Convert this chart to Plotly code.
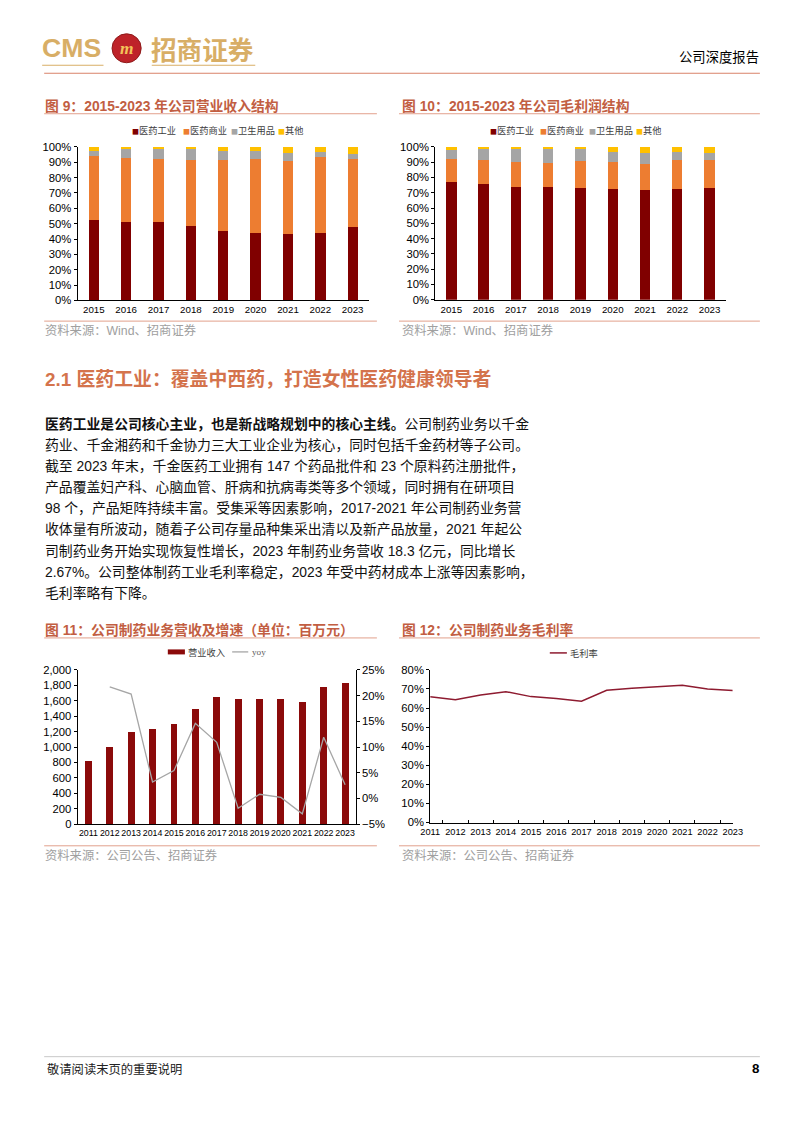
import plotly.graph_objects as go

# ---------------- data ----------------
years_struct = ["2015", "2016", "2017", "2018", "2019", "2020", "2021", "2022", "2023"]
segments = ["医药工业", "医药商业", "卫生用品", "其他"]
rev_pharma_ind = [52.7, 51.2, 51.0, 48.6, 45.1, 43.6, 43.4, 43.8, 47.9]
rev_pharma_com = [41.2, 41.6, 41.2, 42.9, 46.2, 48.6, 47.7, 49.7, 44.3]
rev_hygiene = [3.7, 5.9, 6.3, 7.2, 6.3, 5.4, 4.8, 3.0, 3.2]
rev_other = [2.4, 1.3, 1.5, 1.3, 2.4, 2.4, 4.1, 3.5, 4.6]

gp_pharma_ind = [76.9, 75.8, 74.1, 74.1, 73.4, 72.8, 71.5, 72.5, 73.0]
gp_pharma_com = [15.3, 15.5, 16.1, 15.2, 17.2, 17.4, 17.2, 19.0, 18.5]
gp_hygiene = [5.6, 7.4, 8.6, 9.4, 8.1, 6.5, 7.6, 5.0, 4.4]
gp_other = [2.2, 1.3, 1.2, 1.3, 1.3, 3.3, 3.7, 3.5, 4.1]

years_pharma = ["2011", "2012", "2013", "2014", "2015", "2016", "2017",
                "2018", "2019", "2020", "2021", "2022", "2023"]
pharma_revenue = [816, 994, 1192, 1231, 1296, 1490, 1650, 1620, 1628, 1628, 1590, 1780, 1830]
pharma_yoy = [None, 21.7, 20.3, 3.2, 5.4, 14.6, 10.9, -1.9, 0.8, 0.2, -3.0, 11.9, 2.67]
pharma_margin = [65.9, 64.3, 66.9, 68.6, 66.0, 65.0, 63.6, 69.3, 70.4, 71.3, 72.0, 70.0, 69.2]

name_rev, name_yoy, name_margin = "营业收入", "yoy", "毛利率"

# ---------------- styles ----------------
W, H = 802, 1133
# layout is specified in page pixels and mapped onto the figure
SX, OX = 0.97, 11.0
SY, OY = 0.99, 4.7
FS = 1 / 0.975

seg_colors = ["#800000", "#ED7D31", "#A5A5A5", "#FFC000"]
BAR_RED = "#8B0A0A"
YOY_GRAY = "#A6A6A6"
MARGIN_RED = "#8E1B30"
TITLE_C = "#C25E42"
HEAD_C = "#D4734C"
RULE_C = "#E2A08C"
GOLD = "#D8AE66"
SRC_C = "#A0A0A0"
FONT = "Liberation Sans, Noto Sans CJK SC, sans-serif"


def px(x):
    return ((x - OX) / SX) / W


def py(y):
    return 1 - ((y - OY) / SY) / H


fig = go.Figure()

# ---- chart 9 / chart 10 stacked bars ----
for name, vals, col in zip(segments, [rev_pharma_ind, rev_pharma_com, rev_hygiene, rev_other], seg_colors):
    fig.add_trace(go.Bar(x=years_struct, y=vals, name=name, marker=dict(color=col, line=dict(width=0)),
                         xaxis="x", yaxis="y", showlegend=False))
for name, vals, col in zip(segments, [gp_pharma_ind, gp_pharma_com, gp_hygiene, gp_other], seg_colors):
    fig.add_trace(go.Bar(x=years_struct, y=vals, name=name, marker=dict(color=col, line=dict(width=0)),
                         xaxis="x2", yaxis="y2", showlegend=False))

# ---- chart 11 ----
fig.add_trace(go.Bar(x=years_pharma, y=pharma_revenue, name=name_rev,
                     marker=dict(color=BAR_RED, line=dict(width=0)),
                     xaxis="x3", yaxis="y3", showlegend=False))
fig.add_trace(go.Scatter(x=years_pharma, y=pharma_yoy, name=name_yoy, mode="lines",
                         line=dict(color=YOY_GRAY, width=1.3),
                         xaxis="x3", yaxis="y4", showlegend=False))

# ---- chart 12 ----
fig.add_trace(go.Scatter(x=years_pharma, y=pharma_margin, name=name_margin, mode="lines",
                         line=dict(color=MARGIN_RED, width=1.5),
                         xaxis="x5", yaxis="y5", showlegend=False))

yfont = dict(family=FONT, size=11 * FS, color="#000")


def xax(d0, d1, anchor, size=9, boundary_ticks=False):
    a = dict(domain=[px(d0), px(d1)], anchor=anchor, type="category", showline=True,
             linecolor="#000", linewidth=1, showgrid=False, zeroline=False,
             tickfont=dict(family=FONT, size=size * FS, color="#000"), tickangle=0, fixedrange=True)
    if boundary_ticks:
        a.update(ticks="inside", tickson="boundaries", ticklen=3, tickcolor="#000")
    else:
        a.update(ticks="")
    return a


def yax(d_top, d_bot, anchor, rng, dtick, suffix="", fmt=None, side="left"):
    a = dict(domain=[py(d_bot), py(d_top)], anchor=anchor, range=rng, dtick=dtick,
             showline=True, linecolor="#000", linewidth=1, showgrid=False, zeroline=False,
             ticks="outside", ticklen=3, tickcolor="#000", tickfont=yfont,
             ticksuffix=suffix, side=side, fixedrange=True)
    if fmt:
        a["tickformat"] = fmt
    return a


layout = dict(
    width=W, height=H, autosize=False,
    margin=dict(l=0, r=0, t=0, b=0, pad=0),
    paper_bgcolor="white", plot_bgcolor="white",
    barmode="stack", bargap=0.68,
    font=dict(family=FONT, color="#000"),
    showlegend=False,
    xaxis=xax(78.3, 368, "y", 9.5),
    yaxis=yax(145.7, 299.3, "x", [0, 100], 10, "%"),
    xaxis2=xax(434, 723, "y2", 9.5),
    yaxis2=yax(145.7, 298.7, "x2", [0, 100], 10, "%"),
    xaxis3=xax(78.3, 355, "y3", 8.6),
    yaxis3=yax(669, 823.3, "x3", [0, 2000], 200, fmt=","),
    yaxis4=dict(overlaying="y3", anchor="x3", side="right", range=[-5, 25], dtick=5,
                ticksuffix="%", showline=True, linecolor="#000", linewidth=1,
                showgrid=False, zeroline=False, ticks="outside", ticklen=3,
                tickcolor="#000", tickfont=yfont, fixedrange=True),
    xaxis5=xax(429, 730, "y5", 9, boundary_ticks=True),
    yaxis5=yax(669, 821.7, "x5", [0, 80], 10, "%"),
)
fig.update_layout(**layout)

shapes = []
annos = []


def hline(x0, x1, y, color, width=1):
    shapes.append(dict(type="line", xref="paper", yref="paper", x0=px(x0), x1=px(x1),
                       y0=py(y), y1=py(y), line=dict(color=color, width=width)))


def text(x, y, s, size, color="#000", xanchor="left", family=FONT, yanchor="middle"):
    annos.append(dict(xref="paper", yref="paper", x=px(x), y=py(y), text=s, showarrow=False,
                      xanchor=xanchor, yanchor=yanchor, align="left", borderpad=0,
                      font=dict(family=family, size=size * FS, color=color)))


# header
text(42, 47, "<b>CMS</b>", 26, GOLD, family="Liberation Sans, sans-serif")
shapes.append(dict(type="circle", xref="paper", yref="paper", x0=px(112.5), x1=px(141.5),
                   y0=py(61.5), y1=py(32.5), fillcolor="#BE2329", line=dict(color="#8E1A1A", width=1)))
text(127, 47, "<b><i>m</i></b>", 17, "#F3C35A", xanchor="center", family="Liberation Serif, serif")
text(150, 47, "<b>招商证券</b>", 25, GOLD, family="Noto Sans CJK SC")
hline(43, 104, 64, GOLD, 1.2)
hline(152, 255, 64, GOLD, 1.2)
text(757, 55, "公司深度报告", 13, "#000", xanchor="right", family="Noto Sans CJK SC")
hline(45, 757, 72, "#D9826A", 1)

# chart titles & rules
text(45, 105, "<b>图 9：2015-2023 年公司营业收入结构</b>", 13.5, TITLE_C)
text(400, 105, "<b>图 10：2015-2023 年公司毛利润结构</b>", 13.5, TITLE_C)
hline(45, 376, 112.5, RULE_C)
hline(398, 757, 112.5, RULE_C)

# legends chart 9 / 10
leg_x9 = [131.7, 181.7, 230, 276.7]
for dx in (0, 356):
    for xv, name, col in zip(leg_x9, segments, seg_colors):
        text(xv + dx, 128.3, f"<span style='color:{col};font-size:7px'>■</span>{name}", 9, "#404040",
             family="Noto Sans CJK SC")

# sources top
hline(45, 376, 320, RULE_C)
hline(398, 757, 320, RULE_C)
text(45, 329.3, "资料来源：Wind、招商证券", 12, SRC_C)
text(400, 329.3, "资料来源：Wind、招商证券", 12, SRC_C)

# section heading
text(45, 378, "<b>2.1 医药工业：覆盖中西药，打造女性医药健康领导者</b>", 18.4, HEAD_C)

para = [
    "<b>医药工业是公司核心主业，也是新战略规划中的核心主线。</b>公司制药业务以千金",
    "药业、千金湘药和千金协力三大工业企业为核心，同时包括千金药材等子公司。",
    "截至 2023 年末，千金医药工业拥有 147 个药品批件和 23 个原料药注册批件，",
    "产品覆盖妇产科、心脑血管、肝病和抗病毒类等多个领域，同时拥有在研项目",
    "98 个，产品矩阵持续丰富。受集采等因素影响，2017-2021 年公司制药业务营",
    "收体量有所波动，随着子公司存量品种集采出清以及新产品放量，2021 年起公",
    "司制药业务开始实现恢复性增长，2023 年制药业务营收 18.3 亿元，同比增长",
    "2.67%。公司整体制药工业毛利率稳定，2023 年受中药材成本上涨等因素影响，",
    "毛利率略有下降。",
]
for i, line in enumerate(para):
    text(45, 423 + i * 21.1, line, 13.5, "#111")

# chart 11/12 titles
text(45, 629, "<b>图 11：公司制药业务营收及增速（单位：百万元）</b>", 13.5, TITLE_C)
text(400, 629, "<b>图 12：公司制药业务毛利率</b>", 13.5, TITLE_C)
hline(45, 376, 637, RULE_C)
hline(398, 757, 637, RULE_C)

# legend chart 11
shapes.append(dict(type="rect", xref="paper", yref="paper", x0=px(168), x1=px(185),
                   y0=py(653.5), y1=py(648.5), fillcolor=BAR_RED, line=dict(width=0)))
text(187, 651, name_rev, 9, "#404040", family="Noto Sans CJK SC")
hline(232, 248, 651, YOY_GRAY, 1.3)
text(251, 651, name_yoy, 9, "#606060", family="Liberation Serif, serif")

# legend chart 12
hline(548, 565, 652, MARGIN_RED, 1.5)
text(567, 652, name_margin, 9, "#404040", family="Noto Sans CJK SC")

# sources bottom
hline(45, 376, 845, RULE_C)
hline(398, 757, 845, RULE_C)
text(45, 854.3, "资料来源：公司公告、招商证券", 12, SRC_C)
text(400, 854.3, "资料来源：公司公告、招商证券", 12, SRC_C)

# footer
hline(45, 757, 1056, "#C8C8C8", 1)
text(47, 1068, "敬请阅读末页的重要说明", 12, "#222", family="Noto Sans CJK SC")
text(757, 1068, "<b>8</b>", 13, "#000", xanchor="right")

fig.update_layout(shapes=shapes, annotations=annos)
fig.write_html("out.html", config={"displayModeBar": False})
